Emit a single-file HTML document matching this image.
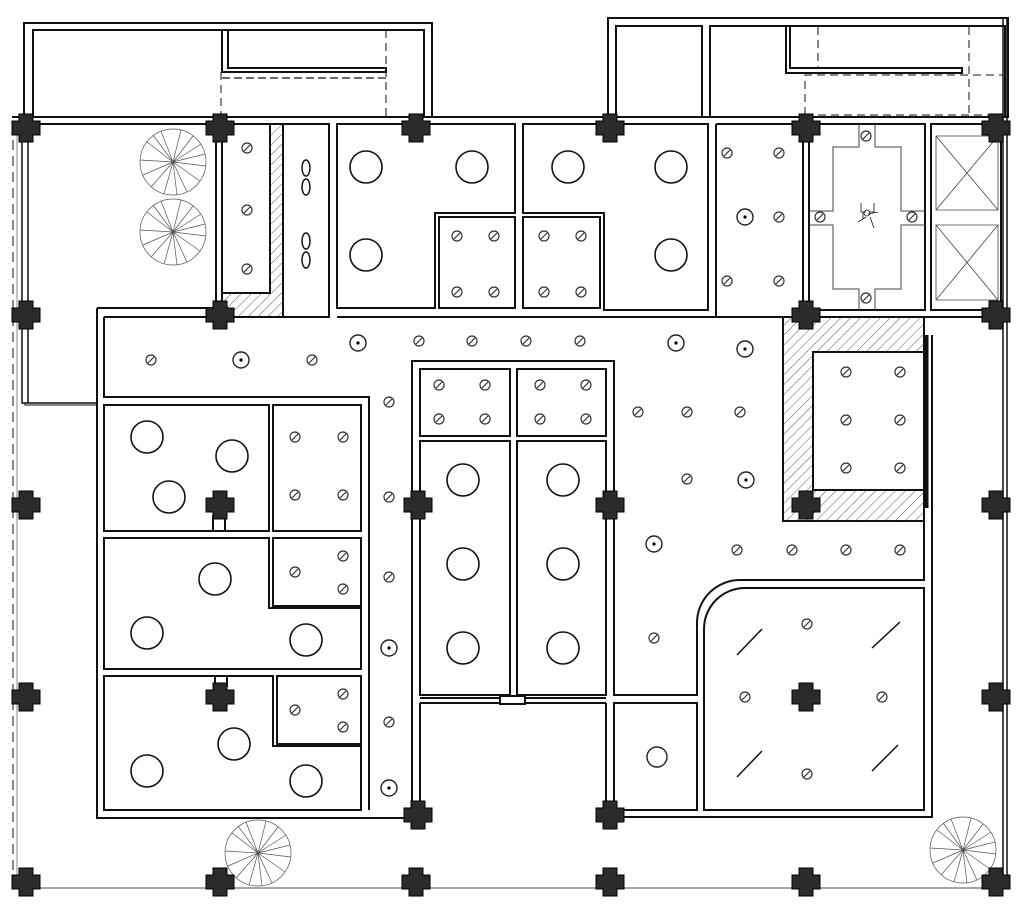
<!DOCTYPE html>
<html><head><meta charset="utf-8"><style>html,body{margin:0;padding:0;background:#fff}svg{display:block}</style></head><body>
<svg width="1023" height="910" viewBox="0 0 1023 910" xmlns="http://www.w3.org/2000/svg">
<defs>
<pattern id="h" width="7" height="7" patternUnits="userSpaceOnUse" patternTransform="rotate(45)"><line x1="0" y1="0" x2="0" y2="7" stroke="#333" stroke-width="0.8"/></pattern>
<g id="c"><path d="M-7,-14H7V-7H14V7H7V14H-7V7H-14V-7H-7Z" fill="#2b2b2b" stroke="#000" stroke-width="1"/></g>
<g id="l"><circle r="5" fill="none" stroke="#333" stroke-width="1.2"/><line x1="-3" y1="3" x2="3" y2="-3" stroke="#333" stroke-width="1.2"/></g>
<g id="d"><circle r="8" fill="none" stroke="#222" stroke-width="1.4"/><circle r="1.6" fill="#000"/></g>
<g id="B"><circle r="16" fill="none" stroke="#111" stroke-width="1.6"/></g>
<g id="t" stroke="#555" stroke-width="0.7" fill="none"><circle r="33"/><path d="M0,0L-12,-31M0,0L8,-32M0,0L20,-26M0,0L28,-18M0,0L32,-8M0,0L33,4M0,0L27,19M0,0L14,30M0,0L4,33M0,0L-9,32M0,0L-22,25M0,0L-30,13M0,0L-33,-2M0,0L-26,-20M0,0L-20,-27"/></g>
</defs>
<g fill="none" stroke="#111" stroke-width="2">
<!-- top-left annex -->
<path d="M24,118V23H432V118"/><path d="M33,118V30H424V118"/>
<path d="M222,30V72H386V68H228V30"/>
<path d="M221,72V118M386,30V118" stroke-dasharray="8,5" stroke-width="1"/>
<path d="M222,78H386" stroke-dasharray="8,4" stroke-width="1.2"/>
<!-- top-right annex -->
<path d="M608,118V18H1008V118"/>
<rect x="616" y="26" width="86" height="91"/>
<path d="M710,117V26H1005V117"/>
<path d="M786,27V73H962V68H790V27"/>
<path d="M805,115V75H1003M818,27V68M969,27V115M805,115H1003" stroke-dasharray="8,5" stroke-width="1"/>
<!-- top wall -->
<path d="M12,117H1008M30,124H216M222,124H330M337,124H515M523,124H708M716,124H803M809,124H925M932,124H1000"/>
<!-- left exterior -->
<path d="M22,124V403H97M28,124V403" stroke-width="1.5"/>
<path d="M13,124V885" stroke-dasharray="10,6" stroke-width="1"/>
<path d="M17,135V885" stroke="#888" stroke-width="1"/>
<path d="M216,124V310M222,124V310"/>
<!-- hatched room -->
<path d="M223,293H270V124M283,124V317H223" />
<path d="M223,293H270V124H283V317H223Z" fill="url(#h)" stroke="none"/>
<path d="M329,124V317M337,124V308"/>
<path d="M283,317H329" stroke="#888" stroke-width="1"/>
<!-- room A/B -->
<path d="M337,124H515V213H435V308H337Z"/><rect x="439" y="217" width="76" height="91"/>
<path d="M523,124H708V310H604V213H523Z"/><rect x="523" y="217" width="77" height="91"/>
<path d="M716,124V317H803"/>
<path d="M97,308H216M104,317H330M337,317H716" />
<path d="M97,308V818H412M104,317V397H369V810M104,810H361"/>
<!-- stair room -->
<path d="M803,124V310M809,124V310"/>
<rect x="809" y="124" width="116" height="186"/>
<path d="M859,124V147H833V211H809M809,225H833V289H859V310M875,310V289H901V225H925M925,211H901V147H875V124" stroke-width="1" stroke="#444"/>
<rect x="931" y="124" width="70" height="186"/>
<path d="M936,136H998V210H936ZM936,136L998,210M998,136L936,210M936,225H998V300H936ZM936,225L998,300M998,225L936,300" stroke-width="0.8" stroke="#444"/>
<path d="M1003,18V885M1007,18V885" stroke-width="1.5"/>
<path d="M925,317H1000M809,317H925"/>
<!-- hatched right -->
<path d="M783,317H924V521H783Z"/>
<path d="M783,317H924V352H813V490H924V521H783Z" fill="url(#h)" stroke="none"/>
<rect x="813" y="352" width="111" height="138"/>
<path d="M926,335V508" stroke-width="5"/>
<path d="M932,335V817H614" />
<path d="M924,521V580H740A43,43 0 0 0 697,623V695H614V361H412V815"/>
<path d="M924,588H745A41,41 0 0 0 704,629V810H924Z"/>
<rect x="614" y="703" width="83" height="107"/>
<path d="M614,703V815M606,703V815M420,703V815"/>
<!-- left block rooms -->
<rect x="104" y="405" width="165" height="126"/><rect x="273" y="405" width="88" height="126"/>
<path d="M104,538H269V608H361V669H104Z"/><rect x="273" y="538" width="88" height="68"/>
<path d="M104,676H273V746H361V810H104Z"/><rect x="277" y="676" width="84" height="68"/>
<rect x="213" y="516" width="12" height="15" fill="#fff"/><rect x="215" y="676" width="12" height="10" fill="#fff"/>
<!-- center -->
<rect x="420" y="369" width="90" height="67"/><rect x="517" y="369" width="89" height="67"/>
<rect x="420" y="441" width="90" height="254"/><rect x="517" y="441" width="89" height="254"/>
<path d="M420,698H606M420,703H606" />
<rect x="500" y="696" width="25" height="8" fill="#fff"/>
<path d="M25,403V405H97" stroke-width="1"/>
<!-- bottom -->
<path d="M15,888H1010" stroke="#888" stroke-width="1.5"/>
</g>
<!-- fans -->
<g fill="none" stroke="#111" stroke-width="1.5">
<ellipse cx="306" cy="168" rx="4" ry="8"/><ellipse cx="306" cy="187" rx="4" ry="8"/>
<ellipse cx="306" cy="241" rx="4" ry="8"/><ellipse cx="306" cy="260" rx="4" ry="8"/>
<path d="M737,655L762,629M872,648L900,622M737,777L762,751M872,771L898,745"/>
<path d="M861,203V212H866M874,203V212H869M868,214L878,212M866,217L858,222M870,217L874,228M863,212V219" stroke-width="0.8"/>
<circle cx="867" cy="213" r="3" stroke-width="0.8"/>
</g>
<use href="#t" x="173" y="162"/><use href="#t" x="173" y="232"/><use href="#t" x="258" y="853"/><use href="#t" x="963" y="850"/>
<g>
<use href="#l" x="151" y="360"/><use href="#l" x="312" y="360"/><use href="#l" x="419" y="341"/><use href="#l" x="472" y="341"/><use href="#l" x="526" y="341"/><use href="#l" x="580" y="341"/>
<use href="#d" x="241" y="360" transform=""/><use href="#d" x="358" y="343"/><use href="#d" x="676" y="343"/>
<use href="#l" x="727" y="153"/><use href="#l" x="779" y="153"/><use href="#l" x="779" y="217"/><use href="#l" x="727" y="281"/><use href="#l" x="779" y="281"/>
<use href="#d" x="745" y="217"/><use href="#d" x="745" y="349"/><use href="#d" x="746" y="480"/><use href="#d" x="654" y="544"/><use href="#d" x="389" y="648"/><use href="#d" x="389" y="788"/>
<circle cx="657" cy="757" r="10" fill="none" stroke="#222" stroke-width="1.4"/>
<use href="#l" x="457" y="236"/><use href="#l" x="494" y="236"/><use href="#l" x="457" y="292"/><use href="#l" x="494" y="292"/>
<use href="#l" x="544" y="236"/><use href="#l" x="581" y="236"/><use href="#l" x="544" y="292"/><use href="#l" x="581" y="292"/>
<use href="#l" x="247" y="148"/><use href="#l" x="247" y="210"/><use href="#l" x="247" y="269"/>
<use href="#l" x="389" y="402"/><use href="#l" x="389" y="497"/><use href="#l" x="389" y="577"/><use href="#l" x="389" y="722"/>
<use href="#l" x="295" y="437"/><use href="#l" x="343" y="437"/><use href="#l" x="295" y="495"/><use href="#l" x="343" y="495"/>
<use href="#l" x="295" y="572"/><use href="#l" x="343" y="556"/><use href="#l" x="343" y="589"/>
<use href="#l" x="295" y="710"/><use href="#l" x="343" y="694"/><use href="#l" x="343" y="727"/>
<use href="#l" x="439" y="385"/><use href="#l" x="485" y="385"/><use href="#l" x="439" y="419"/><use href="#l" x="485" y="419"/>
<use href="#l" x="540" y="385"/><use href="#l" x="586" y="385"/><use href="#l" x="540" y="419"/><use href="#l" x="586" y="419"/>
<use href="#l" x="638" y="412"/><use href="#l" x="687" y="412"/><use href="#l" x="740" y="412"/><use href="#l" x="687" y="479"/>
<use href="#l" x="737" y="550"/><use href="#l" x="792" y="550"/><use href="#l" x="846" y="550"/><use href="#l" x="900" y="550"/><use href="#l" x="654" y="638"/>
<use href="#l" x="846" y="372"/><use href="#l" x="900" y="372"/><use href="#l" x="846" y="420"/><use href="#l" x="900" y="420"/><use href="#l" x="846" y="468"/><use href="#l" x="900" y="468"/>
<use href="#l" x="807" y="624"/><use href="#l" x="807" y="774"/><use href="#l" x="745" y="697"/><use href="#l" x="882" y="697"/>
<use href="#l" x="866" y="136"/><use href="#l" x="866" y="298"/><use href="#l" x="820" y="217"/><use href="#l" x="912" y="217"/>
</g>
<g>
<use href="#B" x="366" y="167"/><use href="#B" x="472" y="167"/><use href="#B" x="366" y="255"/>
<use href="#B" x="568" y="167"/><use href="#B" x="671" y="167"/><use href="#B" x="671" y="255"/>
<use href="#B" x="147" y="437"/><use href="#B" x="232" y="456"/><use href="#B" x="169" y="497"/>
<use href="#B" x="215" y="579"/><use href="#B" x="147" y="633"/><use href="#B" x="306" y="640"/>
<use href="#B" x="234" y="744"/><use href="#B" x="147" y="771"/><use href="#B" x="306" y="781"/>
<use href="#B" x="463" y="480"/><use href="#B" x="463" y="564"/><use href="#B" x="463" y="648"/>
<use href="#B" x="563" y="480"/><use href="#B" x="563" y="564"/><use href="#B" x="563" y="648"/>
</g>
<g>
<use href="#c" x="26" y="128"/><use href="#c" x="220" y="128"/><use href="#c" x="416" y="128"/><use href="#c" x="610" y="128"/><use href="#c" x="806" y="128"/><use href="#c" x="996" y="128"/>
<use href="#c" x="26" y="315"/><use href="#c" x="220" y="315"/><use href="#c" x="806" y="315"/><use href="#c" x="996" y="315"/>
<use href="#c" x="26" y="505"/><use href="#c" x="220" y="505"/><use href="#c" x="418" y="505"/><use href="#c" x="610" y="505"/><use href="#c" x="806" y="505"/><use href="#c" x="996" y="505"/>
<use href="#c" x="26" y="697"/><use href="#c" x="220" y="697"/><use href="#c" x="806" y="697"/><use href="#c" x="996" y="697"/>
<use href="#c" x="418" y="815"/><use href="#c" x="610" y="815"/>
<use href="#c" x="26" y="882"/><use href="#c" x="220" y="882"/><use href="#c" x="416" y="882"/><use href="#c" x="610" y="882"/><use href="#c" x="806" y="882"/><use href="#c" x="996" y="882"/>
</g>
</svg>
</body></html>
